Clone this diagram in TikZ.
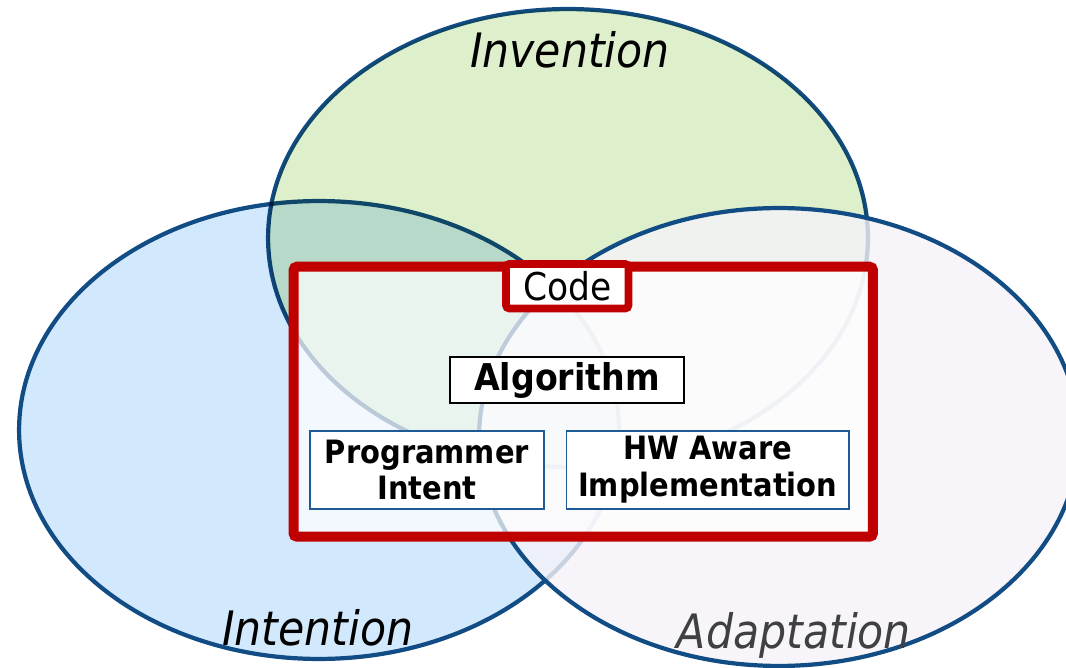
\documentclass[tikz,border=0pt]{standalone}
\usepackage{fontspec}
\setmainfont{DejaVu Sans Condensed}
\usetikzlibrary{shapes.geometric}

\definecolor{vennline}{RGB}{18,76,132}
\definecolor{intentfill}{RGB}{210,232,253}
\definecolor{inventfill}{RGB}{222,239,203}
\definecolor{adaptfill}{RGB}{245,243,248}
\definecolor{codered}{RGB}{192,0,0}
\definecolor{ideablue}{RGB}{30,90,150}
\definecolor{adaptgrey}{RGB}{64,64,64}

\begin{document}
\begin{tikzpicture}[x=0.02cm, y=-0.02cm,
  venn/.style = {ellipse, draw=vennline, line width=2.4pt, minimum width=12cm, minimum height=9.16cm, inner sep=0pt},
  setname/.style = {font=\fontsize{27}{32}\selectfont\itshape},
  frame/.style = {draw=codered, rounded corners=2pt, inner sep=0pt},
  idea/.style = {draw=ideablue, line width=0.85pt, fill=white, inner sep=0pt, align=center, minimum height=1.56cm, font=\fontsize{18.3}{21}\selectfont\bfseries}]
\useasboundingbox (0,0) rectangle (1066,668);

% the three circles
\node[venn, fill=intentfill] (intention) at (319,430) {};
\node[venn, fill=inventfill, blend mode=multiply] (invention) at (568,238) {};
\node[venn, fill=adaptfill, fill opacity=0.8] (adaptation) at (779,437) {};

\node[setname] (inventname) at (570,50) {Invention};
\node[setname] (intentname) at (318,628) {Intention};
\node[setname, text=adaptgrey] (adaptname) at (794,635) {Adaptation};

% code frame on top
\node[frame, line width=5.7pt, fill=white, fill opacity=0.72, minimum width=11.59cm, minimum height=5.4cm] (code) at (583.25,401.7) {};
\node[frame, line width=4.5pt, fill=white, minimum width=2.45cm, minimum height=0.89cm, font=\fontsize{21.8}{26}\selectfont] (codetab) at (567.25,286.25) {Code};

\node[draw, line width=0.85pt, fill=white, inner sep=0pt, minimum width=4.68cm, minimum height=0.92cm, font=\fontsize{21}{25}\selectfont\bfseries] (algo) at (567,380) {Algorithm};
\node[idea, minimum width=4.68cm] (intent) at (427,470) {Programmer\\Intent};
\node[idea, minimum width=5.65cm] (hwimpl) at (707.75,470) {HW Aware\\Implementation};
\end{tikzpicture}
\end{document}
